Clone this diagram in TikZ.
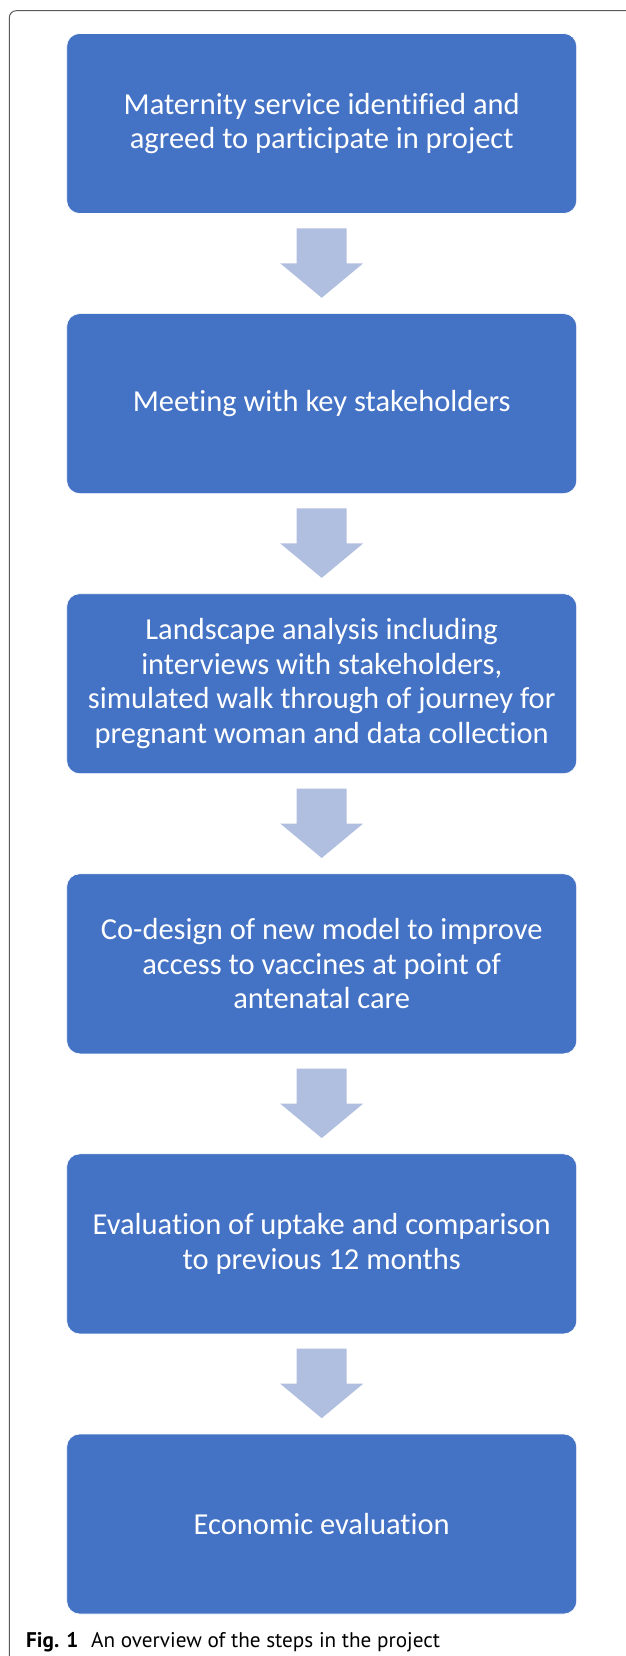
\documentclass[tikz,border=0pt]{standalone}
\usepackage{fontspec}
\setmainfont{Carlito}[Ligatures={NoCommon,NoContextual}]
\newfontfamily\capfont{PT Sans}
\usetikzlibrary{calc}
\definecolor{boxblue}{HTML}{4472C4}
\definecolor{arrowblue}{HTML}{B0BEE0}
\definecolor{framegray}{HTML}{5A5A5A}
\tikzset{
  stepbox/.style={fill=boxblue, draw=white, line width=0.6pt, rounded corners=13pt,
    minimum width=510pt, minimum height=180pt, inner sep=0pt,
    text=white, align=center, font=\fontsize{30.5}{34.5}\selectfont},
  flowarrow/.style={fill=arrowblue},
  captext/.style={anchor=base west, inner sep=0pt, font=\capfont\fontsize{21.2}{24}\selectfont}
}
\begin{document}
\begin{tikzpicture}[x=1pt,y=1pt]
\useasboundingbox (0,0) rectangle (625,-1656);
\draw[framegray, line width=1pt, rounded corners=7pt] (9.3,-1670) -- (9.3,-10.7) -- (640,-10.7);
\node[stepbox] (b1) at (321.7,-123.5) {Maternity service identified and\\agreed to participate in project};
\node[stepbox] (b2) at (321.7,-403.6) {Meeting with key stakeholders};
\node[stepbox] (b3) at (321.7,-683.7) {Landscape analysis including\\interviews with stakeholders,\\simulated walk through of journey for\\pregnant woman and data collection};
\node[stepbox] (b4) at (321.7,-963.8) {Co-design of new model to improve\\access to vaccines at point of\\antenatal care};
\node[stepbox] (b5) at (321.7,-1243.9) {Evaluation of uptake and comparison\\to previous 12 months};
\node[stepbox] (b6) at (321.7,-1524) {Economic evaluation};
\foreach \a/\b in {b1/b2,b2/b3,b3/b4,b4/b5,b5/b6}{
  \fill[flowarrow] ($(\a.south)+(-25,-14.5)$) -- ($(\a.south)+(25,-14.5)$)
    -- ($(\a.south)+(25,-49.5)$) -- ($(\a.south)+(41.5,-49.5)$)
    -- ($(\b.north)+(0,15.5)$) -- ($(\a.south)+(-41.5,-49.5)$)
    -- ($(\a.south)+(-25,-49.5)$) -- cycle;
}
\node[captext] (cap) at (26,-1647) {\textbf{Fig. 1}\hspace{0.6em}An overview of the steps in the project};
\end{tikzpicture}
\end{document}
